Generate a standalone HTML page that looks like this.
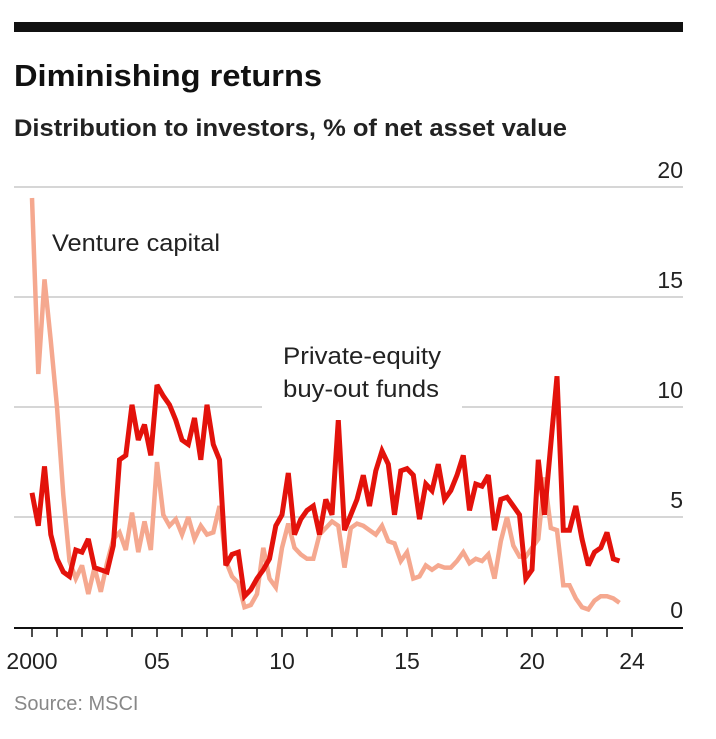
<!DOCTYPE html>
<html><head><meta charset="utf-8"><style>
body{margin:0;background:#fff;width:716px;height:734px;overflow:hidden;font-family:"Liberation Sans",sans-serif}
</style></head><body>
<svg width="716" height="734" xmlns="http://www.w3.org/2000/svg">
<rect x="14" y="22" width="669" height="10" fill="#111"/>
<text x="14" y="86" font-size="31" font-weight="bold" fill="#111" textLength="308" lengthAdjust="spacingAndGlyphs">Diminishing returns</text>
<text x="14" y="136" font-size="24" font-weight="bold" fill="#222" textLength="553" lengthAdjust="spacingAndGlyphs">Distribution to investors, % of net asset value</text>
<g id="grid"></g>
<g id="series"></g>
<text x="52" y="251" font-size="24" fill="#222" textLength="168" lengthAdjust="spacingAndGlyphs">Venture capital</text>
<text x="283" y="364" font-size="24" fill="#222" textLength="158" lengthAdjust="spacingAndGlyphs">Private-equity</text>
<text x="283" y="397" font-size="24" fill="#222" textLength="156" lengthAdjust="spacingAndGlyphs">buy-out funds</text>
<g id="xaxis"></g>
<text x="14" y="710" font-size="20" fill="#888">Source: MSCI</text>
</svg>
<script>
const yTicks=[0,5,10,15,20];
const xTickYears=[2000,2005,2010,2015,2020,2024];
const xTickLabels=["2000","05","10","15","20","24"];
const startYear=2000;
const peValues=[6.1,4.6,7.3,4.2,3.1,2.5,2.3,3.5,3.4,4.0,2.7,2.6,2.5,3.7,7.6,7.8,10.1,8.5,9.2,7.8,11.0,10.5,10.1,9.4,8.5,8.3,9.5,7.6,10.1,8.3,7.6,2.8,3.3,3.4,1.4,1.7,2.2,2.6,3.1,4.6,5.1,7.0,4.2,4.9,5.3,5.5,4.2,5.8,5.1,9.4,4.4,5.1,5.8,6.9,5.5,7.1,8.0,7.4,5.1,7.1,7.2,6.9,4.9,6.5,6.2,7.4,5.8,6.2,6.9,7.8,5.3,6.5,6.4,6.9,4.4,5.8,5.9,5.5,5.1,2.2,2.6,7.6,5.1,8.3,11.4,4.4,4.4,5.5,4.0,2.8,3.4,3.6,4.3,3.1,3.0];
const vcValues=[19.5,11.5,15.8,13,10,6,3,2.2,2.8,1.5,2.7,1.6,2.9,4.0,4.3,3.5,5.2,3.4,4.8,3.5,7.5,5.1,4.6,4.9,4.2,5.0,4.0,4.6,4.2,4.3,5.5,3.0,2.3,2.0,0.9,1.0,1.5,3.6,2.2,1.8,3.6,4.7,3.6,3.3,3.1,3.1,4.2,4.5,4.8,4.6,2.7,4.5,4.7,4.6,4.4,4.2,4.6,3.9,3.8,3.0,3.4,2.2,2.3,2.8,2.6,2.8,2.7,2.7,3.0,3.4,2.9,3.1,3.0,3.3,2.2,3.9,5.0,3.7,3.2,3.2,3.6,4.0,6.8,4.5,4.4,1.9,1.9,1.3,0.9,0.8,1.2,1.4,1.4,1.3,1.1];
const NS="http://www.w3.org/2000/svg";
const x=yr=>32+(yr-startYear)*25;
const xq=i=>x(startYear+i/4);
const y=v=>627-v*22;
function mk(tag,attrs,parent){const e=document.createElementNS(NS,tag);for(const k in attrs)e.setAttribute(k,attrs[k]);parent.appendChild(e);return e;}
const grid=document.getElementById('grid');
yTicks.forEach(t=>{
  if(t===0)return;
  if(t===10){
    const a=mk('line',{x1:14,x2:262,y1:y(t),y2:y(t),stroke:'#c8c8c8','stroke-width':1.5},grid);
    
    
    const b=mk('line',{x1:462,x2:683,y1:y(t),y2:y(t),stroke:'#c8c8c8','stroke-width':1.5},grid);
    
    
  } else {
    const l=mk('line',{x1:14,x2:683,y1:y(t),y2:y(t),stroke:'#c8c8c8','stroke-width':1.5},grid);
    
    
  }
});
yTicks.forEach(t=>{
  const tx=mk('text',{x:683,y:y(t)-9,'font-size':23,fill:'#222','text-anchor':'end'},grid);
  tx.textContent=String(t);
  
  
});
const ser=document.getElementById('series');
function line(vals,color,w,name){
  const d=vals.map((v,i)=>(i?'L':'M')+xq(i).toFixed(1)+','+y(v).toFixed(1)).join(' ');
  const p=mk('path',{d:d,fill:'none',stroke:color,'stroke-width':w,'stroke-linejoin':'miter','stroke-miterlimit':3},ser);
  
  
}
line(vcValues,'#f5a88f',4.5,'venture-capital-line');
line(peValues,'#e3120b',5,'private-equity-line');
const xa=document.getElementById('xaxis');
const base=mk('line',{x1:14,x2:683,y1:628,y2:628,stroke:'#111','stroke-width':2},xa);


for(let yr=2000;yr<=2024;yr++){
  const tk=mk('line',{x1:x(yr),x2:x(yr),y1:628,y2:637,stroke:'#111','stroke-width':1.5},xa);
  
  
}
xTickYears.forEach((yr,i)=>{
  const t=mk('text',{x:x(yr),y:669,'font-size':23,fill:'#222','text-anchor':'middle'},xa);
  t.textContent=xTickLabels[i];
  
  
});
</script>
</body></html>
